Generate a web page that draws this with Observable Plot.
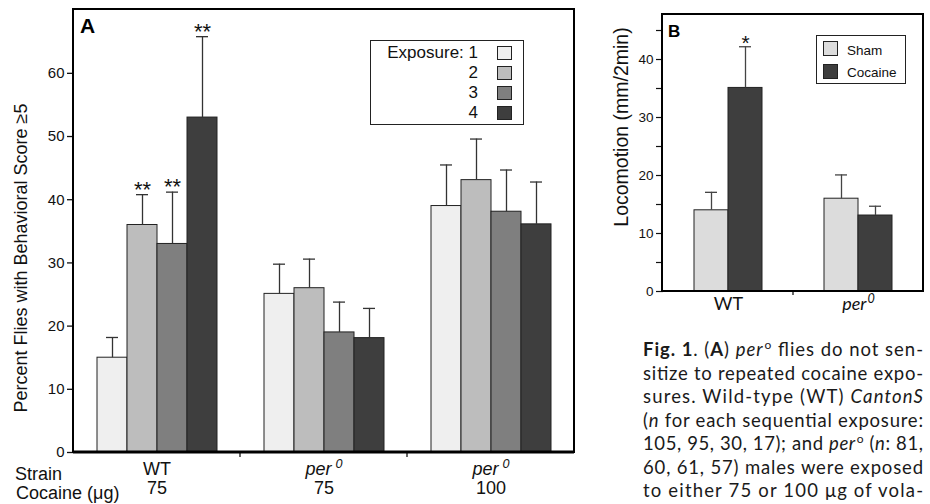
<!DOCTYPE html>
<html><head><meta charset="utf-8">
<script src="https://cdn.jsdelivr.net/npm/d3@7"></script>
<script src="https://cdn.jsdelivr.net/npm/@observablehq/plot@0.6"></script>
<style>
body{margin:0;background:#fff;}
#wrap{position:relative;width:930px;height:504px;overflow:hidden;background:#fff;font-family:"Liberation Sans",Arial,sans-serif;}
#plotA,#plotB,#overlay{position:absolute;top:0;}
#plotA{left:0;} #plotB{left:600px;} #overlay{left:0;}
</style></head>
<body><div id="wrap"><div id="plotA"></div><div id="plotB"></div><svg id="overlay" width="930" height="504"></svg></div>
<script>
// ---------- Panel A data ----------
const exposures = [1, 2, 3, 4];
const exposureColors = ["#efefef", "#bdbdbd", "#7f7f7f", "#3e3e3e"];
const groupIds = ["WT-75", "per0-75", "per0-100"];
const strains = ["WT", "per0", "per0"];
const doses = ["75", "75", "100"];
const wt75Mean = [15, 36, 33, 53];
const wt75Err = [18.2, 40.8, 41.2, 65.8];
const wt75Sig = ["", "**", "**", "**"];
const per75Mean = [25.1, 26, 19, 18.1];
const per75Err = [29.8, 30.6, 23.8, 22.8];
const per75Sig = ["", "", "", ""];
const per100Mean = [39, 43.1, 38.1, 36.1];
const per100Err = [45.5, 49.6, 44.7, 42.8];
const per100Sig = ["", "", "", ""];
const yTicksA = [0, 10, 20, 30, 40, 50, 60];
const yLabelA = "Percent Flies with Behavioral Score \u22655";

// ---------- Panel B data ----------
const treatments = ["Sham", "Cocaine"];
const treatmentColors = ["#dcdcdc", "#3e3e3e"];
const strainsB = ["WT", "per0"];
const shamMean = [14, 16];
const shamErr = [17.1, 20.1];
const shamSig = ["", ""];
const cocaineMean = [35.1, 13.1];
const cocaineErr = [42.2, 14.7];
const cocaineSig = ["*", ""];
const yTicksB = [0, 5, 10, 15, 20, 25, 30, 35, 40, 45];
const yLabelB = "Locomotion (mm/2min)";

// ---------- Caption ----------
const captionLines = [
  [["Fig. 1", "b"], [". (", ""], ["A", "b"], [") ", ""], ["per", "i"], ["o", "sup"], [" flies do not sen-", ""]],
  [["sitize to repeated cocaine expo-", ""]],
  [["sures. Wild-type (WT) ", ""], ["CantonS", "i"]],
  [["(", ""], ["n", "i"], [" for each sequential exposure:", ""]],
  [["105, 95, 30, 17); and ", ""], ["per", "i"], ["o", "sup"], [" (", ""], ["n", "i"], [": 81,", ""]],
  [["60, 61, 57) males were exposed", ""]],
  [["to either 75 or 100 \u03bcg of vola-", ""]]
];

// ---------- build tables ----------
const meansA = [wt75Mean, per75Mean, per100Mean];
const errsA = [wt75Err, per75Err, per100Err];
const sigsA = [wt75Sig, per75Sig, per100Sig];
const rowsA = groupIds.flatMap((g, gi) => exposures.map((e, ei) => ({
  group: g, exposure: e, value: meansA[gi][ei], err: errsA[gi][ei], sig: sigsA[gi][ei]
})));
const groupRows = groupIds.map((g, i) => ({group: g, strain: strains[i], dose: doses[i]}));

const meansB = [shamMean, cocaineMean];
const errsB = [shamErr, cocaineErr];
const sigsB = [shamSig, cocaineSig];
const rowsB = strainsB.flatMap((s, si) => treatments.map((t, ti) => ({
  strain: s, treatment: t, value: meansB[ti][si], err: errsB[ti][si], sig: sigsB[ti][si]
})));

function supPer(svg, gap) {
  d3.select(svg).selectAll("text").filter(function () {
    return this.childElementCount === 0 && this.textContent === "per0";
  }).each(function () {
    const t = d3.select(this);
    t.text(null);
    t.append("tspan").attr("font-style", "italic").text("per");
    t.append("tspan").attr("font-style", "italic").attr("font-size", "0.7em")
      .attr("dx", gap).attr("dy", "-0.55em").text("0");
  });
}
function frameIt(plot, sw, bottomW, tickLen) {
  const svg = d3.select(plot);
  const [yb, yt] = plot.scale("y").range;
  const fx = plot.scale("fx");
  const [x0, x1] = fx.range;
  svg.append("rect").attr("x", x0).attr("y", yt).attr("width", x1 - x0).attr("height", yb - yt)
    .attr("fill", "none").attr("stroke", "#000").attr("stroke-width", sw);
  svg.append("line").attr("x1", x0).attr("x2", x1).attr("y1", yb).attr("y2", yb)
    .attr("stroke", "#000").attr("stroke-width", bottomW);
  fx.domain.slice(1).forEach(d => {
    const xx = fx.apply(d);
    svg.append("line").attr("x1", xx).attr("x2", xx).attr("y1", yb).attr("y2", yb + tickLen)
      .attr("stroke", "#000").attr("stroke-width", 1.2);
  });
}

// ---------- Panel A ----------
const plotA = Plot.plot({
  width: 590, height: 504,
  marginLeft: 73, marginRight: 16, marginTop: 9, marginBottom: 52,
  style: {fontFamily: "'Liberation Sans', Arial, sans-serif", fontSize: "15px", color: "#111", background: "transparent", overflow: "visible"},
  fx: {domain: groupIds, padding: 0, axis: null, label: null},
  x: {type: "band", domain: exposures, paddingInner: 0, paddingOuter: 0.76, axis: null},
  y: {domain: [0, 70.1]},
  color: {type: "ordinal", domain: exposures, range: exposureColors},
  marks: [
    Plot.axisY({ticks: yTicksA, tickSize: 6, tickPadding: 3, fontSize: 15, label: null, strokeWidth: 1.3}),
    Plot.barY(rowsA, {fx: "group", x: "exposure", y: "value", fill: "exposure", stroke: "#222", strokeWidth: 1}),
    Plot.ruleX(rowsA, {fx: "group", x: "exposure", y1: "value", y2: "err", stroke: "#333", strokeWidth: 1.3}),
    Plot.tickY(rowsA, {fx: "group", x: "exposure", y: "err", insetLeft: 9, insetRight: 9, stroke: "#333", strokeWidth: 1.3}),
    Plot.text(rowsA, {fx: "group", x: "exposure", y: "err", text: "sig", lineAnchor: "bottom", dy: 2, fontSize: 22}),
    Plot.text(groupRows, {fx: "group", text: "strain", frameAnchor: "bottom", dy: 22, fontSize: 18}),
    Plot.text(groupRows, {fx: "group", text: "dose", frameAnchor: "bottom", dy: 41, fontSize: 18})
  ]
});
frameIt(plotA, 2, 3, 5);
supPer(plotA, 4);
document.getElementById("plotA").appendChild(plotA);

// ---------- Panel B ----------
const plotB = Plot.plot({
  width: 330, height: 330,
  marginLeft: 62, marginRight: 7, marginTop: 14, marginBottom: 39,
  style: {fontFamily: "'Liberation Sans', Arial, sans-serif", fontSize: "13.5px", color: "#111", background: "transparent", overflow: "visible"},
  fx: {domain: strainsB, padding: 0, axis: null, label: null},
  x: {type: "band", domain: treatments, paddingInner: 0, paddingOuter: 0.864, axis: null},
  y: {domain: [0, 47.76]},
  color: {type: "ordinal", domain: treatments, range: treatmentColors},
  marks: [
    Plot.axisY({ticks: yTicksB, tickFormat: d => (d % 10 === 0 ? d : ""), tickSize: 7, tickPadding: 3, fontSize: 13.5, label: null, strokeWidth: 1.2}),
    Plot.barY(rowsB, {fx: "strain", x: "treatment", y: "value", fill: "treatment", stroke: "#222", strokeWidth: 1}),
    Plot.ruleX(rowsB, {fx: "strain", x: "treatment", y1: "value", y2: "err", stroke: "#444", strokeWidth: 1.3}),
    Plot.tickY(rowsB, {fx: "strain", x: "treatment", y: "err", insetLeft: 11, insetRight: 11, stroke: "#444", strokeWidth: 1.3}),
    Plot.text(rowsB, {fx: "strain", x: "treatment", y: "err", text: "sig", lineAnchor: "bottom", dy: 3, fontSize: 21}),
    Plot.text(strainsB, {fx: d => d, text: d => d, frameAnchor: "bottom", dy: 18, fontSize: 18, fontFamily: "Lato, 'Noto Sans', sans-serif"})
  ]
});
frameIt(plotB, 2, 2, 4);
supPer(plotB, 1);
document.getElementById("plotB").appendChild(plotB);

// ---------- overlay text, legends, caption ----------
const ov = d3.select("#overlay");
const sans = "'Liberation Sans', Arial, sans-serif";
ov.append("text").attr("x", 80).attr("y", 33).attr("font-family", sans).attr("font-weight", "bold").attr("font-size", 21).text("A");
ov.append("text").attr("x", 668).attr("y", 37).attr("font-family", sans).attr("font-weight", "bold").attr("font-size", 17).text("B");
ov.append("text").attr("transform", "translate(27,258) rotate(-90)").attr("text-anchor", "middle")
  .attr("font-family", sans).attr("font-size", 18).attr("fill", "#111").text(yLabelA);
ov.append("text").attr("transform", "translate(628,127) rotate(-90)").attr("text-anchor", "middle")
  .attr("font-family", sans).attr("font-size", 19.5).attr("fill", "#111").text(yLabelB);
ov.append("text").attr("x", 15).attr("y", 480).attr("font-family", sans).attr("font-size", 18).attr("fill", "#111").text("Strain");
ov.append("text").attr("x", 16).attr("y", 499).attr("font-family", sans).attr("font-size", 18).attr("fill", "#111").text("Cocaine (\u03bcg)");

// legend A
ov.append("rect").attr("x", 370.5).attr("y", 40.5).attr("width", 153).attr("height", 84).attr("fill", "#fff").attr("stroke", "#222");
exposures.forEach((e, i) => {
  ov.append("text").attr("x", 478).attr("y", 58 + 20 * i).attr("text-anchor", "end")
    .attr("font-family", sans).attr("font-size", 17).attr("fill", "#111")
    .text(i === 0 ? "Exposure: " + e : String(e));
  ov.append("rect").attr("x", 497.5).attr("y", 46.5 + 20 * i).attr("width", 14).attr("height", 13)
    .attr("fill", exposureColors[i]).attr("stroke", "#222");
});
// legend B
ov.append("rect").attr("x", 816.5).attr("y", 35.5).attr("width", 89).attr("height", 48).attr("fill", "#fff").attr("stroke", "#222");
treatments.forEach((t, i) => {
  ov.append("rect").attr("x", 823.5).attr("y", 41.5 + 23 * i).attr("width", 14).attr("height", 14)
    .attr("fill", treatmentColors[i]).attr("stroke", "#222");
  ov.append("text").attr("x", 847).attr("y", 55 + 22 * i).attr("font-family", sans).attr("font-size", 13.5)
    .attr("fill", "#111").text(t);
});

// caption
captionLines.forEach((line, li) => {
  const t = ov.append("text").attr("x", 643).attr("y", 356 + 23.5 * li)
    .attr("font-family", "Lato, 'Noto Sans', sans-serif").attr("font-size", 18.5).attr("fill", "#1a1a1a")
    .attr("textLength", 280).attr("lengthAdjust", "spacing");
  let afterSup = false;
  line.forEach(([txt, st]) => {
    const s = t.append("tspan").text(txt);
    if (st === "b") s.attr("font-weight", "bold");
    if (st === "i") s.attr("font-style", "italic");
    if (st === "sup") { s.attr("font-size", 12).attr("dy", -7).attr("dx", 1); }
    else if (afterSup) { s.attr("dy", 7); }
    afterSup = st === "sup";
  });
});
</script></body></html>
